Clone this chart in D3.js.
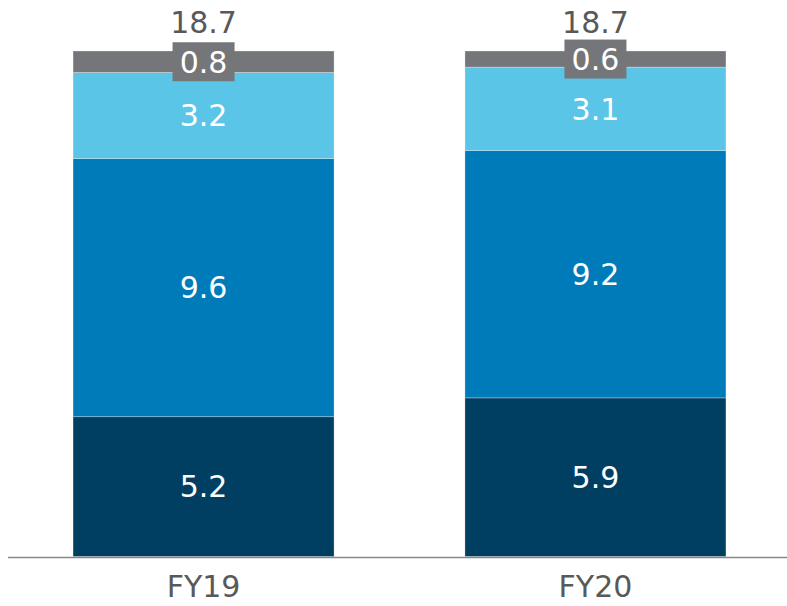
<!DOCTYPE html>
<html><head><meta charset="utf-8">
<script src="https://cdn.jsdelivr.net/npm/d3@7"></script>
<style>html,body{margin:0;padding:0;background:#fff;}svg{display:block;}</style>
</head><body>
<svg id="chart" width="787" height="606"></svg>
<script>
const categories = ["FY19", "FY20"];
const seriesNames = ["s1", "s2", "s3", "s4"];
const s1 = [5.2, 5.9];
const s2 = [9.6, 9.2];
const s3 = [3.2, 3.1];
const s4 = [0.8, 0.6];
const totalLabels = ["18.7", "18.7"];
const colors = ["#003f62", "#007bba", "#5bc5e8", "#757679"];

const svg = d3.select("#chart");
const font = "'DejaVu Sans', Verdana, sans-serif";
const baseY = 556.5;

const rows = categories.map((c, i) => ({cat: c, s1: s1[i], s2: s2[i], s3: s3[i], s4: s4[i], total: totalLabels[i]}));
const stack = d3.stack().keys(seriesNames)(rows);

const x = d3.scaleBand().domain(categories).range([8, 791]).paddingInner(0.334).paddingOuter(0.166);
const y = d3.scaleLinear().domain([0, 18.8]).range([baseY, 51]);

const g = svg.append("g");
stack.forEach((layer, li) => {
  const lg = g.append("g");
  lg.selectAll("rect").data(layer).join("rect")
    .attr("x", d => x(d.data.cat))
    .attr("width", x.bandwidth())
    .attr("y", d => y(d[1]))
    .attr("height", d => y(d[0]) - y(d[1]))
    .attr("fill", colors[li])
    .attr("stroke", "rgba(255,255,255,0.35)")
    .attr("stroke-width", 0.8);
});

// axis
const axis = svg.append("g").attr("transform", `translate(0,${baseY + 1})`)
  .call(d3.axisBottom(x).tickSize(0).tickPadding(18));
axis.select(".domain").attr("stroke", "#888").attr("stroke-width", 1.5).attr("d", "M8,0H787");
axis.selectAll("text").attr("font-family", font).attr("font-size", 30).attr("fill", "#595959");

// segment labels
stack.forEach((layer, li) => {
  layer.forEach(d => {
    const cx = x(d.data.cat) + x.bandwidth() / 2;
    const cy = (y(d[0]) + y(d[1])) / 2;
    const val = d.data[seriesNames[li]].toFixed(1);
    if (li === 3) {
      svg.append("rect").attr("x", cx - 31).attr("y", cy - 19.5).attr("width", 62).attr("height", 39).attr("fill", colors[3]);
    }
    svg.append("text").attr("x", cx).attr("y", cy).attr("dy", "0.36em")
      .attr("text-anchor", "middle").attr("font-family", font).attr("font-size", 30)
      .attr("fill", "#ffffff").text(val);
  });
});

// totals
rows.forEach(r => {
  const top = y(r.s1 + r.s2 + r.s3 + r.s4);
  svg.append("text").attr("x", x(r.cat) + x.bandwidth() / 2).attr("y", top - 18)
    .attr("text-anchor", "middle").attr("font-family", font).attr("font-size", 30)
    .attr("fill", "#595959").text(r.total);
});
</script>
</body></html>
